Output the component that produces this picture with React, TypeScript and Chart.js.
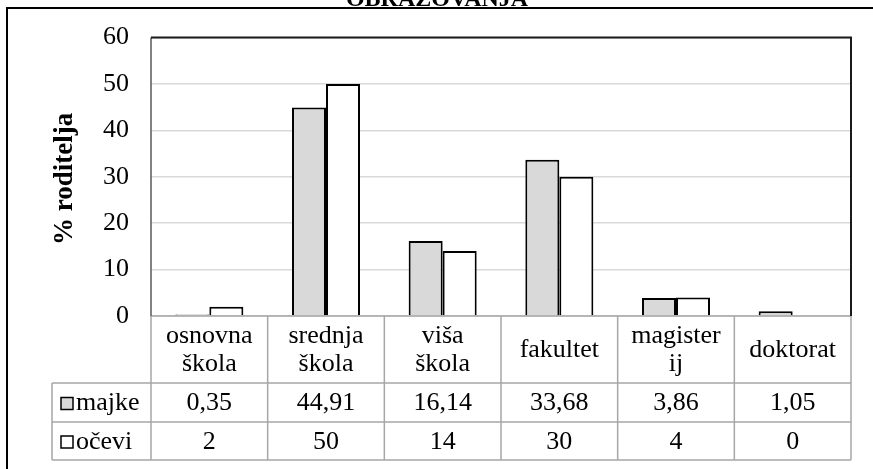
import React, { useEffect, useRef } from 'react';
import { Chart, registerables } from 'chart.js';

Chart.register(...registerables);

// ---- data ----
const categories: string[][] = [
  ['osnovna', 'škola'],
  ['srednja', 'škola'],
  ['viša', 'škola'],
  ['fakultet'],
  ['magister', 'ij'],
  ['doktorat'],
];
const seriesNames = ['majke', 'očevi'];
const majke = [0.35, 44.91, 16.14, 33.68, 3.86, 1.05];
const ocevi = [2, 50, 14, 30, 4, 0];
const yTicks = [0, 10, 20, 30, 40, 50, 60];
const yTitle = '% roditelja';
const titleText = 'OBRAZOVANJA';

const FONT = '"Liberation Serif", "Times New Roman", serif';
const seriesFill = ['#d9d9d9', '#ffffff'];
const seriesValues = [majke, ocevi];

const fmt = (v: number) => String(v).replace('.', ',');

const tablePlugin = {
  id: 'tablePlugin',
  beforeDraw(chart: any) {
    const ctx = chart.ctx;
    ctx.save();
    ctx.fillStyle = '#ffffff';
    ctx.fillRect(0, 0, chart.width, chart.height);
    ctx.restore();
  },
  afterDraw(chart: any) {
    const ctx: CanvasRenderingContext2D = chart.ctx;
    const { left, right, top, bottom } = chart.chartArea;
    const xs = chart.scales.x;
    const n = categories.length;
    const colW = (right - left) / n;
    const legendLeft = 52;
    const rowA = 383;
    const rowB = 422;
    const rowC = 460;

    ctx.save();
    // table lines
    ctx.strokeStyle = '#a6a6a6';
    ctx.lineWidth = 1.5;
    ctx.beginPath();
    [rowA, rowB, rowC].forEach((y) => {
      ctx.moveTo(legendLeft, y);
      ctx.lineTo(right, y);
    });
    ctx.moveTo(legendLeft, rowA);
    ctx.lineTo(legendLeft, rowC);
    for (let i = 0; i <= n; i++) {
      const x = i < n ? xs.getPixelForValue(i) - colW / 2 : xs.getPixelForValue(n - 1) + colW / 2;
      ctx.moveTo(x, bottom);
      ctx.lineTo(x, rowC);
    }
    ctx.moveTo(left, bottom);
    ctx.lineTo(right, bottom);
    ctx.stroke();

    // plot border
    ctx.strokeStyle = '#595959';
    ctx.lineWidth = 1.5;
    ctx.beginPath();
    ctx.moveTo(left, top);
    ctx.lineTo(left, bottom);
    ctx.stroke();
    ctx.strokeStyle = '#1a1a1a';
    ctx.lineWidth = 2;
    ctx.beginPath();
    ctx.moveTo(left, top);
    ctx.lineTo(right, top);
    ctx.lineTo(right, bottom);
    ctx.stroke();

    // table text
    ctx.fillStyle = '#000000';
    ctx.font = `26px ${FONT}`;
    ctx.textAlign = 'center';
    ctx.textBaseline = 'middle';
    categories.forEach((lines, i) => {
      const cx = xs.getPixelForValue(i);
      const lh = 28;
      const cy = (bottom + rowA) / 2 + 1;
      lines.forEach((t, j) => {
        ctx.fillText(t, cx, cy + (j - (lines.length - 1) / 2) * lh);
      });
    });
    seriesValues.forEach((vals, s) => {
      const cy = s === 0 ? (rowA + rowB) / 2 + 1 : (rowB + rowC) / 2 + 1;
      vals.forEach((v, i) => {
        ctx.fillText(fmt(v), xs.getPixelForValue(i), cy);
      });
      // legend
      ctx.fillStyle = seriesFill[s];
      ctx.fillRect(61, cy - 6, 12, 12);
      ctx.strokeStyle = '#000000';
      ctx.lineWidth = 1.5;
      ctx.strokeRect(61, cy - 6, 12, 12);
      ctx.fillStyle = '#000000';
      ctx.textAlign = 'left';
      ctx.fillText(seriesNames[s], 76, cy);
      ctx.textAlign = 'center';
    });

    // y title
    ctx.save();
    ctx.translate(65, (top + bottom) / 2 + 2);
    ctx.rotate(-Math.PI / 2);
    ctx.font = `bold 27px ${FONT}`;
    ctx.fillText(yTitle, 0, 0);
    ctx.restore();

    // chart title (cut off at top)
    ctx.font = `bold 24px ${FONT}`;
    ctx.textBaseline = 'alphabetic';
    ctx.fillText(titleText, 437, 6);

    // outer frame
    ctx.strokeStyle = '#000000';
    ctx.lineWidth = 2;
    ctx.beginPath();
    ctx.moveTo(7, chart.height);
    ctx.lineTo(7, 8);
    ctx.lineTo(chart.width, 8);
    ctx.stroke();
    ctx.restore();
  },
};

export default function App() {
  const ref = useRef<HTMLCanvasElement>(null);
  useEffect(() => {
    if (!ref.current) return;
    const chart = new Chart(ref.current, {
      type: 'bar',
      data: {
        labels: categories.map((c) => c.join(' ')),
        datasets: seriesNames.map((name, s) => ({
          label: name,
          data: seriesValues[s],
          backgroundColor: seriesFill[s],
          borderColor: '#000000',
          borderWidth: 2,
          categoryPercentage: 0.583,
          barPercentage: 1,
        })),
      },
      options: {
        animation: false,
        responsive: false,
        devicePixelRatio: 1,
        layout: { padding: { left: 0, right: 22, top: 37, bottom: 153 } },
        plugins: { legend: { display: false }, tooltip: { enabled: false }, title: { display: false } },
        scales: {
          x: { display: false },
          y: {
            min: 0,
            max: 60,
            afterBuildTicks: (scale: any) => {
              scale.ticks = yTicks.map((v) => ({ value: v }));
            },
            afterFit: (scale: any) => {
              scale.width = 151;
            },
            grid: { color: '#d9d9d9', lineWidth: 1.5, drawTicks: false },
            border: { display: false },
            ticks: {
              padding: 22,
              color: '#000000',
              font: { family: FONT, size: 26 },
            },
          },
        },
      },
      plugins: [tablePlugin],
    });
    return () => chart.destroy();
  }, []);
  return (
    <div style={{ position: 'fixed', left: 0, top: 0, width: 873, height: 469 }}>
      <canvas ref={ref} width={873} height={469} />
    </div>
  );
}
